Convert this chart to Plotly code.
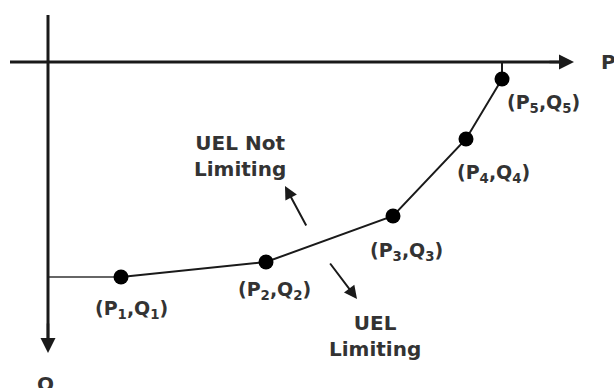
import plotly.graph_objects as go

# Under-excitation limiter (UEL) characteristic, P-Q plane (Q grows downward)
P = [7.3, 21.8, 34.5, 41.8, 45.4]
Q = [21.5, 20.0, 15.4, 7.7, 1.7]
point_labels = ["(P<sub>1</sub>,Q<sub>1</sub>)", "(P<sub>2</sub>,Q<sub>2</sub>)",
                "(P<sub>3</sub>,Q<sub>3</sub>)", "(P<sub>4</sub>,Q<sub>4</sub>)",
                "(P<sub>5</sub>,Q<sub>5</sub>)"]
label_shift = [(10, -32), (8, -28), (13, -35), (27, -34), (41, -24)]

FONT = "DejaVu Sans, Liberation Sans, Arial"
INK = "#1a1a1a"
TXT = "#333333"

fig = go.Figure()

# flat segment from the Q axis to the first point
fig.add_trace(go.Scatter(x=[0, P[0]], y=[Q[0], Q[0]], mode="lines",
                         line=dict(color="#333", width=1.5), hoverinfo="skip"))
# drop from P axis to the last point
fig.add_trace(go.Scatter(x=[P[-1], P[-1]], y=[0, Q[-1]], mode="lines",
                         line=dict(color=INK, width=2), hoverinfo="skip"))
# limiter curve
fig.add_trace(go.Scatter(x=P, y=Q, mode="lines+markers",
                         line=dict(color=INK, width=2),
                         marker=dict(color="black", size=15), hoverinfo="skip"))

# axes with arrowheads
fig.add_trace(go.Scatter(x=[-3.8, 52.0], y=[0, 0], mode="lines",
                         line=dict(color=INK, width=3), hoverinfo="skip"))
fig.add_trace(go.Scatter(x=[0, 0], y=[-4.7, 27.8], mode="lines",
                         line=dict(color=INK, width=3), hoverinfo="skip"))

ann = []
ann.append(dict(x=52.6, y=0, ax=50.0, ay=0, xref="x", yref="y", axref="x", ayref="y",
                showarrow=True, arrowhead=2, arrowsize=1.2, arrowwidth=2.5,
                arrowcolor=INK, text=""))
ann.append(dict(x=0, y=29.1, ax=0, ay=26.0, xref="x", yref="y", axref="x", ayref="y",
                showarrow=True, arrowhead=2, arrowsize=1.2, arrowwidth=2.5,
                arrowcolor=INK, text=""))
ann.append(dict(x=56.0, y=0, text="<b>P</b>", showarrow=False,
                font=dict(family=FONT, size=20, color=TXT)))
ann.append(dict(x=-0.3, y=32.2, text="<b>Q</b>", showarrow=False,
                font=dict(family=FONT, size=20, color=TXT)))

for px, qy, lab, (dx, dy) in zip(P, Q, point_labels, label_shift):
    ann.append(dict(x=px, y=qy, text="<b>" + lab + "</b>", showarrow=False,
                    xshift=dx, yshift=dy,
                    font=dict(family=FONT, size=19, color=TXT)))

# region arrows
ann.append(dict(x=23.7, y=12.4, ax=25.9, ay=16.5, xref="x", yref="y",
                axref="x", ayref="y", showarrow=True, arrowhead=2, arrowsize=1.3,
                arrowwidth=2, arrowcolor=INK, text=""))
ann.append(dict(x=30.9, y=23.7, ax=28.1, ay=20.0, xref="x", yref="y",
                axref="x", ayref="y", showarrow=True, arrowhead=2, arrowsize=1.3,
                arrowwidth=2, arrowcolor=INK, text=""))
ann.append(dict(x=19.2, y=9.4, text="<b>UEL Not</b><br><b>Limiting</b>", showarrow=False,
                font=dict(family=FONT, size=20, color=TXT)))
ann.append(dict(x=32.7, y=27.4, text="<b>UEL</b><br><b>Limiting</b>", showarrow=False,
                font=dict(family=FONT, size=20, color=TXT)))

fig.update_layout(
    width=614, height=388,
    margin=dict(l=0, r=0, t=0, b=0),
    paper_bgcolor="white", plot_bgcolor="white",
    showlegend=False,
    xaxis=dict(range=[-4.8, 56.6], visible=False, fixedrange=True),
    yaxis=dict(range=[32.6, -6.2], visible=False, fixedrange=True),
    annotations=ann,
)

fig.write_html("out.html")
